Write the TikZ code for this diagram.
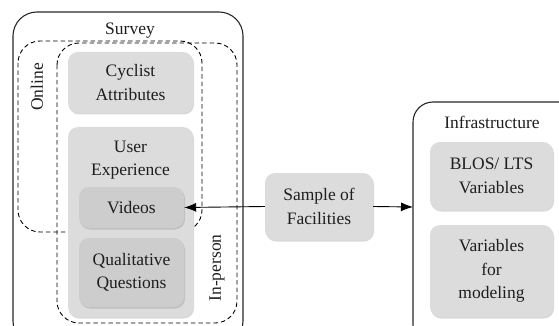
\documentclass[tikz,border=0pt]{standalone}
\usepackage{fontspec}
\setmainfont{Liberation Serif}
\usetikzlibrary{shadows,arrows.meta}
\definecolor{boxgray}{HTML}{DCDCDC}
\definecolor{subgray}{HTML}{CDCDCD}
\definecolor{txtgray}{HTML}{1E1E1E}
\tikzset{
  gbox/.style={draw=none, fill=boxgray, rounded corners=10pt, align=center, text=txtgray,
    drop shadow={opacity=0.3, shadow xshift=1pt, shadow yshift=-1.5pt}},
  sbox/.style={gbox, fill=subgray},
  frame/.style={line width=1.1pt, rounded corners=24pt, draw=black!85},
  dframe/.style={line width=0.9pt, dash pattern=on 4.5pt off 3pt, rounded corners=22pt},
  lbl/.style={text=txtgray},
  arr/.style={-{Latex[length=12pt,width=9pt]}, line width=0.9pt}
}
\begin{document}
\begin{tikzpicture}[x=1pt, y=-1pt]
\useasboundingbox (0,0) rectangle (559,326);
\clip (0,0) rectangle (559,326);
\fontsize{17.5}{23.5}\selectfont\rmfamily
% survey side
\draw[frame] (13,12) rectangle (243,345);
\node[lbl] (survey) at (130,31) {Survey};
\draw[dframe] (18,41) rectangle (202,232);
\draw[dframe] (57,43) rectangle (237,323);
\node[lbl, rotate=90] (online) at (37,87) {Online};
\node[lbl, rotate=90] (inperson) at (217,268) {In-person};
\node[gbox, minimum width=125pt, minimum height=61pt] (cyclist) at (130.5,82.5) {Cyclist\\Attributes};
\node[gbox, minimum width=125pt, minimum height=190pt] (ux) at (130.5,222) {};
\node[lbl, align=center] (uxlabel) at (130.5,160) {User\\Experience};
\node[sbox, minimum width=105pt, minimum height=41pt] (videos) at (131.5,207.5) {Videos};
\node[sbox, minimum width=105pt, minimum height=69pt] (qual) at (131.5,272.5) {Qualitative\\Questions};
% middle
\node[gbox, minimum width=108pt, minimum height=67pt] (sample) at (319,206.5) {Sample of\\Facilities};
% infrastructure side
\draw[frame, rounded corners=20pt] (413,102) rectangle (580,345);
\coordinate (infraleft) at (413,207);
\node[lbl] (infra) at (492,122) {Infrastructure};
\node[gbox, minimum width=123pt, minimum height=68pt] (blos) at (491.5,176) {BLOS/ LTS\\Variables};
\node[gbox, minimum width=123pt, minimum height=92pt] (varmod) at (491.5,271) {Variables\\for\\modeling};
% arrows
\draw[arr] (sample.west) -- (videos.east);
\draw[arr] (sample.east) -- (infraleft);
\end{tikzpicture}
\end{document}
